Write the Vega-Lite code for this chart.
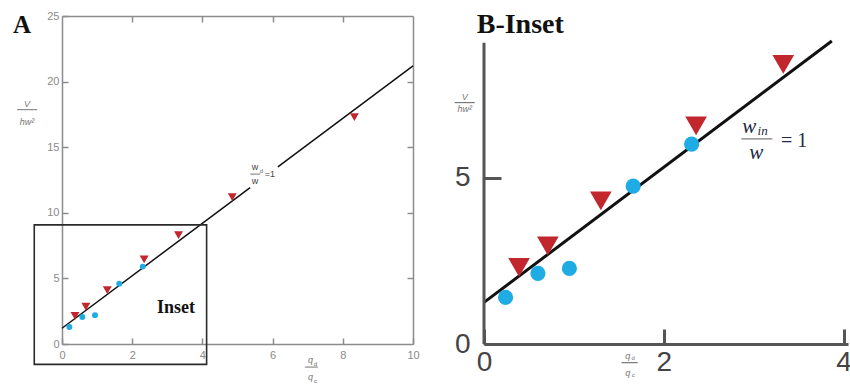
{
  "$schema": "https://vega.github.io/schema/vega-lite/v6.json",
  "padding": {"left": 13, "top": 10, "right": 0, "bottom": 0},
  "background": "white",
  "spacing": 71,
  "bounds": "flush",
  "config": {
    "view": {"stroke": null},
    "axis": {"grid": false, "labelFont": "Liberation Sans"},
    "text": {"font": "Liberation Sans"}
  },
  "hconcat": [
    {
      "width": 351,
      "height": 328,
      "layer": [
        {
          "data": {"values": [
            {"seg": 1, "x": 0, "y": 1.2}, {"seg": 1, "x": 5.36, "y": 11.92},
            {"seg": 2, "x": 6.15, "y": 13.5}, {"seg": 2, "x": 10, "y": 21.2}
          ]},
          "mark": {"type": "line", "color": "#111", "strokeWidth": 1.5},
          "encoding": {
            "x": {"field": "x", "type": "quantitative", "scale": {"domain": [0, 10], "nice": false, "zero": false},
              "axis": {"orient": "top", "values": [2, 4, 6, 8], "labels": false, "title": null, "domainColor": "#8c8c8c", "domainWidth": 1.5, "tickColor": "#8c8c8c", "tickWidth": 1.5, "tickSize": -6}},
            "y": {"field": "y", "type": "quantitative", "scale": {"domain": [0, 25], "nice": false, "zero": false},
              "axis": {"orient": "right", "values": [5, 10, 15, 20], "labels": false, "title": null, "domainColor": "#8c8c8c", "domainWidth": 1.5, "tickColor": "#8c8c8c", "tickWidth": 1.5, "tickSize": -6}},
            "detail": {"field": "seg"}
          }
        },
        {
          "data": {"values": [
            {"x": 0.37, "y": 2.15}, {"x": 0.68, "y": 2.85}, {"x": 1.29, "y": 4.1}, {"x": 2.34, "y": 6.45},
            {"x": 3.32, "y": 8.3}, {"x": 4.85, "y": 11.2}, {"x": 8.33, "y": 17.3}
          ]},
          "mark": {"type": "point", "shape": "triangle-down", "filled": true, "size": 80, "color": "#c1272d", "opacity": 1},
          "encoding": {
            "x": {"field": "x", "type": "quantitative", "scale": {"domain": [0, 10], "nice": false, "zero": false},
              "axis": {"orient": "bottom", "values": [0, 2, 4, 6, 8, 10], "title": null, "domainColor": "#8c8c8c", "domainWidth": 1.5, "tickColor": "#8c8c8c", "tickWidth": 1.5, "tickSize": -6, "labelColor": "#8a8a8a", "labelFontSize": 11, "labelPadding": 11, "labelFlush": false}},
            "y": {"field": "y", "type": "quantitative", "scale": {"domain": [0, 25], "nice": false, "zero": false},
              "axis": {"orient": "left", "values": [0, 5, 10, 15, 20, 25], "title": null, "domainColor": "#8c8c8c", "domainWidth": 1.5, "tickColor": "#8c8c8c", "tickWidth": 1.5, "tickSize": -6, "labelColor": "#8a8a8a", "labelFontSize": 11, "labelPadding": 9}}
          }
        },
        {
          "data": {"values": [
            {"x": 0.21, "y": 1.3}, {"x": 0.58, "y": 2.06}, {"x": 0.94, "y": 2.2}, {"x": 1.63, "y": 4.6}, {"x": 2.3, "y": 5.9}
          ]},
          "mark": {"type": "circle", "size": 35, "color": "#1fabe3", "opacity": 1},
          "encoding": {
            "x": {"field": "x", "type": "quantitative", "scale": {"domain": [0, 10], "nice": false, "zero": false}, "axis": null},
            "y": {"field": "y", "type": "quantitative", "scale": {"domain": [0, 25], "nice": false, "zero": false}, "axis": null}
          }
        },
        {
          "data": {"values": [{"x": -0.79, "x2": 4.12, "y": 9.08, "y2": -1.55}]},
          "mark": {"type": "rect", "fillOpacity": 0, "stroke": "#2a2a2a", "strokeWidth": 1.6},
          "encoding": {
            "x": {"field": "x", "type": "quantitative", "scale": {"domain": [0, 10], "nice": false, "zero": false}, "axis": null},
            "x2": {"field": "x2"},
            "y": {"field": "y", "type": "quantitative", "scale": {"domain": [0, 25], "nice": false, "zero": false}, "axis": null},
            "y2": {"field": "y2"}
          }
        },
        {
          "data": {"values": [{"x": -1.28, "x2": -0.71, "y": 17.86}, {"x": 6.92, "x2": 7.29, "y": -1.76}, {"x": 5.37, "x2": 5.65, "y": 12.95}]},
          "mark": {"type": "rule", "color": "#777", "strokeWidth": 1},
          "encoding": {
            "x": {"field": "x", "type": "quantitative", "scale": {"domain": [0, 10], "nice": false, "zero": false}, "axis": null},
            "x2": {"field": "x2"},
            "y": {"field": "y", "type": "quantitative", "scale": {"domain": [0, 25], "nice": false, "zero": false}, "axis": null}
          }
        },
        {
          "data": {"values": [
            {"x": -1.0, "y": 18.3, "t": "V"}, {"x": -1.0, "y": 16.95, "t": "hw²"},
            {"x": 7.08, "y": -1.22, "t": "q"}, {"x": 7.08, "y": -2.52, "t": "q"}
          ]},
          "mark": {"type": "text", "fontSize": 9, "fontStyle": "italic", "color": "#777", "baseline": "middle", "align": "center"},
          "encoding": {
            "x": {"field": "x", "type": "quantitative", "scale": {"domain": [0, 10], "nice": false, "zero": false}, "axis": null},
            "y": {"field": "y", "type": "quantitative", "scale": {"domain": [0, 25], "nice": false, "zero": false}, "axis": null},
            "text": {"field": "t"}
          }
        },
        {
          "data": {"values": [
            {"x": 7.22, "y": -1.5, "t": "d"}, {"x": 7.22, "y": -2.8, "t": "c"}, {"x": 5.68, "y": 13.15, "t": "d"}
          ]},
          "mark": {"type": "text", "fontSize": 6, "color": "#666", "baseline": "middle", "align": "center"},
          "encoding": {
            "x": {"field": "x", "type": "quantitative", "scale": {"domain": [0, 10], "nice": false, "zero": false}, "axis": null},
            "y": {"field": "y", "type": "quantitative", "scale": {"domain": [0, 25], "nice": false, "zero": false}, "axis": null},
            "text": {"field": "t"}
          }
        },
        {
          "data": {"values": [
            {"x": 5.5, "y": 13.5, "t": "w"}, {"x": 5.5, "y": 12.45, "t": "w"}, {"x": 5.92, "y": 12.95, "t": "=1"}
          ]},
          "mark": {"type": "text", "fontSize": 9, "color": "#444", "baseline": "middle", "align": "center"},
          "encoding": {
            "x": {"field": "x", "type": "quantitative", "scale": {"domain": [0, 10], "nice": false, "zero": false}, "axis": null},
            "y": {"field": "y", "type": "quantitative", "scale": {"domain": [0, 25], "nice": false, "zero": false}, "axis": null},
            "text": {"field": "t"}
          }
        },
        {
          "data": {"values": [{"x": 3.25, "y": 2.37, "t": "Inset"}]},
          "mark": {"type": "text", "font": "Liberation Serif", "fontWeight": "bold", "fontSize": 18, "color": "#111", "baseline": "alphabetic", "align": "center"},
          "encoding": {
            "x": {"field": "x", "type": "quantitative", "scale": {"domain": [0, 10], "nice": false, "zero": false}, "axis": null},
            "y": {"field": "y", "type": "quantitative", "scale": {"domain": [0, 25], "nice": false, "zero": false}, "axis": null},
            "text": {"field": "t"}
          }
        },
        {
          "data": {"values": [{"x": -1.396, "y": 23.74, "t": "A"}]},
          "mark": {"type": "text", "font": "Liberation Serif", "fontWeight": "bold", "fontSize": 25, "color": "#111", "baseline": "alphabetic", "align": "left"},
          "encoding": {
            "x": {"field": "x", "type": "quantitative", "scale": {"domain": [0, 10], "nice": false, "zero": false}, "axis": null},
            "y": {"field": "y", "type": "quantitative", "scale": {"domain": [0, 25], "nice": false, "zero": false}, "axis": null},
            "text": {"field": "t"}
          }
        }
      ]
    },
    {
      "width": 364,
      "height": 328,
      "layer": [
        {
          "data": {"values": [{"x": 0, "y": 1.25}, {"x": 3.87, "y": 9.1}]},
          "mark": {"type": "line", "color": "#111", "strokeWidth": 3},
          "encoding": {
            "x": {"field": "x", "type": "quantitative", "scale": {"domain": [0, 4.05], "nice": false, "zero": false},
              "axis": {"orient": "bottom", "values": [0, 2, 4], "title": null, "domainColor": "#555", "domainWidth": 3, "tickColor": "#555", "tickWidth": 3, "tickSize": -15, "labelColor": "#444", "labelFontSize": 28, "labelPadding": 19, "labelFlush": false}},
            "y": {"field": "y", "type": "quantitative", "scale": {"domain": [0, 9.85], "nice": false, "zero": false},
              "axis": {"orient": "left", "values": [0, 5], "title": null, "domain": false, "tickColor": "#555", "tickWidth": 3, "tickSize": -17, "labelColor": "#444", "labelFontSize": 28, "labelPadding": 31}}
          }
        },
        {
          "data": {"values": [{"x": 0, "y": 0, "y2": 9.05}]},
          "mark": {"type": "rule", "color": "#555", "strokeWidth": 3},
          "encoding": {
            "x": {"field": "x", "type": "quantitative", "scale": {"domain": [0, 4.05], "nice": false, "zero": false},
              "axis": {"orient": "top", "domain": false, "ticks": false, "labels": false, "title": null}},
            "y": {"field": "y", "type": "quantitative", "scale": {"domain": [0, 9.85], "nice": false, "zero": false},
              "axis": {"orient": "right", "domain": false, "ticks": false, "labels": false, "title": null}},
            "y2": {"field": "y2"}
          }
        },
        {
          "data": {"values": [
            {"x": 0.39, "y": 2.3}, {"x": 0.71, "y": 2.95}, {"x": 1.3, "y": 4.3}, {"x": 2.36, "y": 6.55}, {"x": 3.33, "y": 8.4}
          ]},
          "mark": {"type": "point", "shape": "triangle-down", "filled": true, "size": 470, "color": "#c1272d", "opacity": 1},
          "encoding": {
            "x": {"field": "x", "type": "quantitative", "scale": {"domain": [0, 4.05], "nice": false, "zero": false}, "axis": null},
            "y": {"field": "y", "type": "quantitative", "scale": {"domain": [0, 9.85], "nice": false, "zero": false}, "axis": null}
          }
        },
        {
          "data": {"values": [
            {"x": 0.24, "y": 1.4}, {"x": 0.6, "y": 2.12}, {"x": 0.95, "y": 2.27}, {"x": 1.66, "y": 4.74}, {"x": 2.31, "y": 6.0}
          ]},
          "mark": {"type": "circle", "size": 230, "color": "#1fabe3", "opacity": 1},
          "encoding": {
            "x": {"field": "x", "type": "quantitative", "scale": {"domain": [0, 4.05], "nice": false, "zero": false}, "axis": null},
            "y": {"field": "y", "type": "quantitative", "scale": {"domain": [0, 9.85], "nice": false, "zero": false}, "axis": null}
          }
        },
        {
          "data": {"values": [{"x": -0.326, "x2": -0.103, "y": 7.25}, {"x": 1.53, "x2": 1.71, "y": -0.56}, {"x": 2.863, "x2": 3.208, "y": 6.16}]},
          "mark": {"type": "rule", "color": "#777", "strokeWidth": 1.2},
          "encoding": {
            "x": {"field": "x", "type": "quantitative", "scale": {"domain": [0, 4.05], "nice": false, "zero": false}, "axis": null},
            "x2": {"field": "x2"},
            "y": {"field": "y", "type": "quantitative", "scale": {"domain": [0, 9.85], "nice": false, "zero": false}, "axis": null}
          }
        },
        {
          "data": {"values": [
            {"x": -0.214, "y": 7.42, "t": "V"}, {"x": -0.214, "y": 7.05, "t": "hw²"},
            {"x": 1.6, "y": -0.36, "t": "q"}, {"x": 1.6, "y": -0.86, "t": "q"}
          ]},
          "mark": {"type": "text", "fontSize": 9, "fontStyle": "italic", "color": "#777", "baseline": "middle", "align": "center"},
          "encoding": {
            "x": {"field": "x", "type": "quantitative", "scale": {"domain": [0, 4.05], "nice": false, "zero": false}, "axis": null},
            "y": {"field": "y", "type": "quantitative", "scale": {"domain": [0, 9.85], "nice": false, "zero": false}, "axis": null},
            "text": {"field": "t"}
          }
        },
        {
          "data": {"values": [{"x": 1.66, "y": -0.43, "t": "d"}, {"x": 1.66, "y": -0.93, "t": "c"}]},
          "mark": {"type": "text", "fontSize": 6, "color": "#777", "baseline": "middle", "align": "center"},
          "encoding": {
            "x": {"field": "x", "type": "quantitative", "scale": {"domain": [0, 4.05], "nice": false, "zero": false}, "axis": null},
            "y": {"field": "y", "type": "quantitative", "scale": {"domain": [0, 9.85], "nice": false, "zero": false}, "axis": null},
            "text": {"field": "t"}
          }
        },
        {
          "data": {"values": [{"x": 2.95, "y": 6.53, "t": "w"}, {"x": 3.03, "y": 5.74, "t": "w"}]},
          "mark": {"type": "text", "font": "Liberation Serif", "fontStyle": "italic", "fontSize": 21, "color": "#1f2a44", "baseline": "middle", "align": "center"},
          "encoding": {
            "x": {"field": "x", "type": "quantitative", "scale": {"domain": [0, 4.05], "nice": false, "zero": false}, "axis": null},
            "y": {"field": "y", "type": "quantitative", "scale": {"domain": [0, 9.85], "nice": false, "zero": false}, "axis": null},
            "text": {"field": "t"}
          }
        },
        {
          "data": {"values": [{"x": 3.1, "y": 6.4, "t": "in"}]},
          "mark": {"type": "text", "font": "Liberation Serif", "fontStyle": "italic", "fontSize": 13, "color": "#1f2a44", "baseline": "middle", "align": "center"},
          "encoding": {
            "x": {"field": "x", "type": "quantitative", "scale": {"domain": [0, 4.05], "nice": false, "zero": false}, "axis": null},
            "y": {"field": "y", "type": "quantitative", "scale": {"domain": [0, 9.85], "nice": false, "zero": false}, "axis": null},
            "text": {"field": "t"}
          }
        },
        {
          "data": {"values": [{"x": 3.45, "y": 6.1, "t": "= 1"}]},
          "mark": {"type": "text", "font": "Liberation Serif", "fontSize": 20, "color": "#1f2a44", "baseline": "middle", "align": "center"},
          "encoding": {
            "x": {"field": "x", "type": "quantitative", "scale": {"domain": [0, 4.05], "nice": false, "zero": false}, "axis": null},
            "y": {"field": "y", "type": "quantitative", "scale": {"domain": [0, 9.85], "nice": false, "zero": false}, "axis": null},
            "text": {"field": "t"}
          }
        },
        {
          "data": {"values": [{"x": -0.081, "y": 9.35, "t": "B-Inset"}]},
          "mark": {"type": "text", "font": "Liberation Serif", "fontWeight": "bold", "fontSize": 28, "color": "#111", "baseline": "alphabetic", "align": "left"},
          "encoding": {
            "x": {"field": "x", "type": "quantitative", "scale": {"domain": [0, 4.05], "nice": false, "zero": false}, "axis": null},
            "y": {"field": "y", "type": "quantitative", "scale": {"domain": [0, 9.85], "nice": false, "zero": false}, "axis": null},
            "text": {"field": "t"}
          }
        }
      ]
    }
  ]
}
